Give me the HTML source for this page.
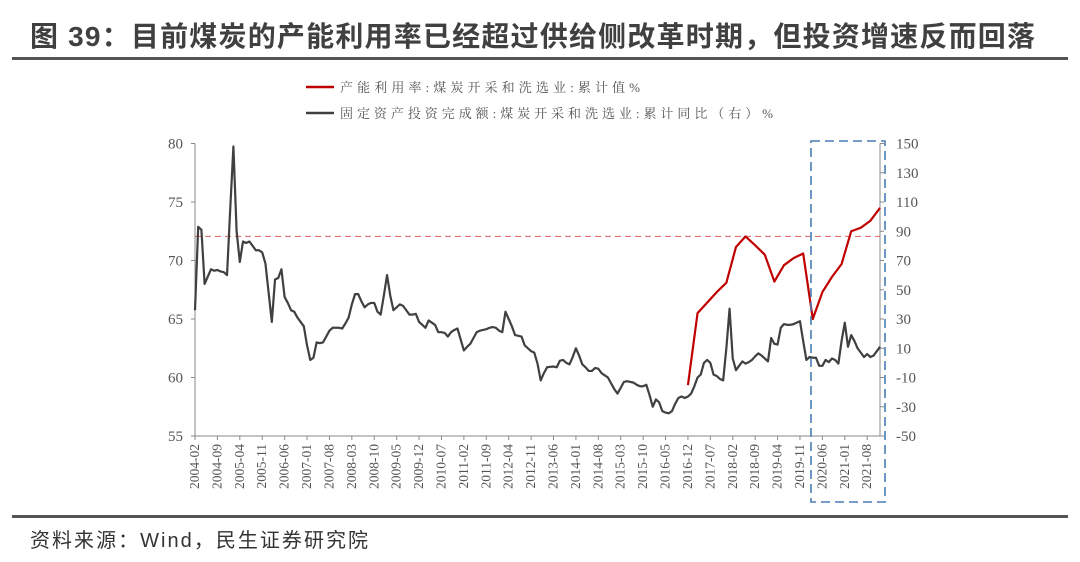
<!DOCTYPE html>
<html><head><meta charset="utf-8"><style>
body{margin:0;background:#fff;width:1080px;height:557px;overflow:hidden;font-family:"Liberation Sans","Noto Sans CJK SC",sans-serif}
</style></head><body>
<svg width="1080" height="557" xmlns="http://www.w3.org/2000/svg">
<text x="30" y="46" font-size="28" font-weight="bold" fill="#404040" textLength="1005" lengthAdjust="spacing" font-family="Liberation Sans, Noto Sans CJK SC, sans-serif">图 39：目前煤炭的产能利用率已经超过供给侧改革时期，但投资增速反而回落</text>
<rect x="12" y="57" width="1056" height="3" fill="#555"/>
<rect x="12" y="515" width="1056" height="3" fill="#555"/>
<text x="30" y="547" font-size="20" fill="#333" textLength="338" lengthAdjust="spacing" font-family="Liberation Sans, Noto Sans CJK SC, sans-serif">资料来源：Wind，民生证券研究院</text>
<g font-family="Liberation Serif, Noto Serif CJK SC, serif" font-size="13" fill="#555">
<line x1="306" y1="87" x2="334" y2="87" stroke="#c00000" stroke-width="2.5"/>
<text x="340" y="92" textLength="300" lengthAdjust="spacing">产能利用率:煤炭开采和洗选业:累计值%</text>
<line x1="306" y1="113" x2="334" y2="113" stroke="#404040" stroke-width="2.5"/>
<text x="340" y="118" textLength="433" lengthAdjust="spacing">固定资产投资完成额:煤炭开采和洗选业:累计同比（右）%</text>
</g>
<g id="plot"></g>
</svg>
<script>
const grayValues=[36,93,91,54,59,64,63,63.5,62.5,62,60,105,148,90,69,83,82,83,80,77,77,75.5,68,48,28,57,58,64,45,41,36,35,31,28,25,12,2,3.5,14,13.5,14,18,22,24,24,24,23.5,27,31,40,47,47,42,38,40,41,41,35,33,46,60,46,36,38,40,39,36,33,33,33.5,28,26,24,29,27.5,26,21,21,20.5,18,21,22.5,23.5,16,8.5,11,13,17,21,22,22.5,23,24,24.5,24,22,21,35,30,25,19,18.5,18,12,10,8,7,-0.5,-12,-7,-3,-2.7,-2.5,-3,1.5,2,0,-1,4,10,5,-1,-3,-5.5,-5.5,-3.5,-4,-7,-8.5,-10,-14,-18,-21,-17,-13,-12.5,-13,-13.5,-15,-16,-16,-15,-22,-30,-25,-27,-33,-34,-34.5,-33,-28,-24,-23,-24,-23,-21,-16,-10,-8,0,2,0,-8,-9,-11,-12,10,37,3,-5,-2,1,-0.5,0.5,2,4.5,6.5,5,3,1,17,13,12.5,24,26.5,26,26,26.5,27.5,28.5,15,2,4,3.5,3.5,-2,-2,2,0.5,3,2,-0.5,15,27.5,11,19,15,10,7,4,6,4,5,8,11];
const redMonths=["2016-12","2017-03","2017-06","2017-09","2017-12","2018-03","2018-06","2018-09","2018-12","2019-03","2019-06","2019-09","2019-12","2020-03","2020-06","2020-09","2020-12","2021-03","2021-06","2021-09","2021-12"];
const redValues=[59.35,65.5,66.4,67.3,68.1,71.15,72.06,71.3,70.5,68.2,69.6,70.2,70.6,65.0,67.3,68.6,69.7,72.5,72.8,73.4,74.5];
const leftTicks=[55,60,65,70,75,80];
const rightTicks=[-50,-30,-10,10,30,50,70,90,110,130,150];
const refValue=72.06;
const startYear=2004,startMonth=2;
const months=[];
for(let i=0;i<grayValues.length;i++){const m=startMonth-1+i;months.push((startYear+Math.floor(m/12))+"-"+String(m%12+1).padStart(2,"0"));}
const X0=195,X1=880,YT=143.5,YB=436;
const xs=i=>X0+i*(X1-X0)/(months.length-1);
const yL=v=>YB-(v-55)/25*(YB-YT);
const yR=v=>YB-(v+50)/200*(YB-YT);
const NS="http://www.w3.org/2000/svg";
const g=document.getElementById("plot");
function mk(t,a){const e=document.createElementNS(NS,t);for(const k in a)e.setAttribute(k,a[k]);g.appendChild(e);return e;}
let e=mk("line",{x1:X0,y1:YT,x2:X0,y2:YB,stroke:"#888","stroke-width":1});


e=mk("line",{x1:X1,y1:YT,x2:X1,y2:YB,stroke:"#888","stroke-width":1});


e=mk("line",{x1:X0,y1:YB,x2:X1,y2:YB,stroke:"#888","stroke-width":1});


leftTicks.forEach(v=>{
  mk("line",{x1:X0-4,y1:yL(v),x2:X0,y2:yL(v),stroke:"#888"});
  const t=mk("text",{x:X0-12,y:yL(v)+5,"text-anchor":"end","font-size":15,fill:"#555","font-family":"Liberation Serif, serif"});
  t.textContent=v;
  
  
});
rightTicks.forEach(v=>{
  mk("line",{x1:X1,y1:yR(v),x2:X1+4,y2:yR(v),stroke:"#888"});
  const t=mk("text",{x:X1+16,y:yR(v)+5,"font-size":15,fill:"#555","font-family":"Liberation Serif, serif"});
  t.textContent=v;
  
  
});
for(let i=0;i<months.length;i+=7){
  mk("line",{x1:xs(i),y1:YB,x2:xs(i),y2:YB+4,stroke:"#888"});
  const t=mk("text",{x:0,y:0,"text-anchor":"end","font-size":13.5,fill:"#555","font-family":"Liberation Serif, serif",transform:`translate(${xs(i)+4},${YB+8}) rotate(-90)`});
  t.textContent=months[i];
  
  
}
e=mk("line",{x1:X0,y1:yL(refValue),x2:X1,y2:yL(refValue),stroke:"#e06060","stroke-width":1,"stroke-dasharray":"6,4"});


e=mk("polyline",{points:grayValues.map((v,i)=>xs(i)+","+yR(v)).join(" "),fill:"none",stroke:"#404040","stroke-width":2.2,"stroke-linejoin":"round"});


e=mk("polyline",{points:redValues.map((v,k)=>xs(months.indexOf(redMonths[k]))+","+yL(v)).join(" "),fill:"none",stroke:"#c00000","stroke-width":2.2,"stroke-linejoin":"round"});


e=mk("rect",{x:811,y:141,width:74,height:361,fill:"none",stroke:"#4a7fb5","stroke-width":1.6,"stroke-dasharray":"9,5"});


</script>
</body></html>
